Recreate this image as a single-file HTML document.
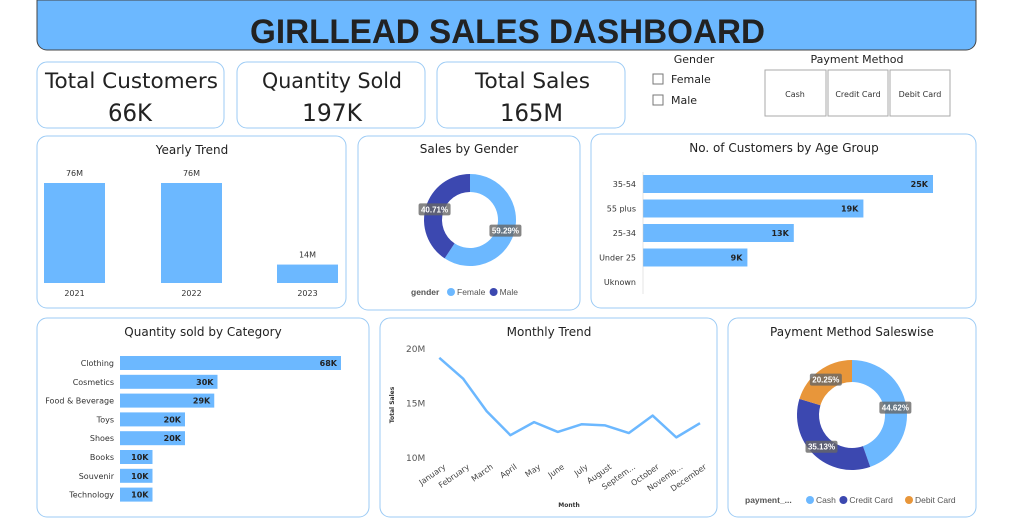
<!DOCTYPE html>
<html><head><meta charset="utf-8"><style>
body{margin:0;background:#fff;font-family:"Liberation Sans","DejaVu Sans",sans-serif;}
svg text{font-family:"DejaVu Sans","Liberation Sans",sans-serif;}
</style></head><body>
<svg id="s" width="1014" height="526" viewBox="0 0 1014 526" xmlns="http://www.w3.org/2000/svg">
<path d="M37,0 H976 V40 a10,10 0 0 1 -10,10 H47 a10,10 0 0 1 -10,-10 Z" fill="#6CB8FF" stroke="#444" stroke-width="1"/>
<text x="250" y="43" font-size="34" font-weight="bold" textLength="515" lengthAdjust="spacingAndGlyphs" fill="#222" style="font-family:'Liberation Sans',sans-serif">GIRLLEAD SALES DASHBOARD</text>

<g>
<rect x="37" y="62" width="187" height="66" rx="10" fill="#fff" stroke="#9CCBF5"/>
<text x="45" y="88" font-size="21" textLength="173" lengthAdjust="spacingAndGlyphs" fill="#222">Total Customers</text>
<text x="108" y="121" font-size="24" textLength="44" lengthAdjust="spacingAndGlyphs" fill="#222">66K</text></g>
<g>
<rect x="237" y="62" width="188" height="66" rx="10" fill="#fff" stroke="#9CCBF5"/>
<text x="262" y="88" font-size="21" textLength="140" lengthAdjust="spacingAndGlyphs" fill="#222">Quantity Sold</text>
<text x="302" y="121" font-size="24" textLength="60" lengthAdjust="spacingAndGlyphs" fill="#222">197K</text></g>
<g>
<rect x="437" y="62" width="188" height="66" rx="10" fill="#fff" stroke="#9CCBF5"/>
<text x="475" y="88" font-size="21" textLength="115" lengthAdjust="spacingAndGlyphs" fill="#222">Total Sales</text>
<text x="500" y="121" font-size="24" textLength="63" lengthAdjust="spacingAndGlyphs" fill="#222">165M</text></g>

<g>
<text x="694" y="63" font-size="11" text-anchor="middle" fill="#222">Gender</text>
<rect x="653" y="74" width="10" height="10" fill="#fff" stroke="#777"/>
<text x="671" y="83" font-size="11" fill="#222">Female</text>
<rect x="653" y="95" width="10" height="10" fill="#fff" stroke="#777"/>
<text x="671" y="104" font-size="11" fill="#222">Male</text></g>
<g>
<text x="857" y="63" font-size="11" text-anchor="middle" fill="#222">Payment Method</text>
<rect x="765" y="70" width="61" height="46" fill="#fff" stroke="#aaa"/>
<text x="795" y="97" font-size="8" text-anchor="middle" fill="#333">Cash</text>
<rect x="828" y="70" width="60" height="46" fill="#fff" stroke="#aaa"/>
<text x="858" y="97" font-size="8" text-anchor="middle" fill="#333">Credit Card</text>
<rect x="890" y="70" width="60" height="46" fill="#fff" stroke="#aaa"/>
<text x="920" y="97" font-size="8" text-anchor="middle" fill="#333">Debit Card</text></g>

<rect x="37" y="136" width="309" height="172" rx="10" fill="#fff" stroke="#9CCBF5"/>
<text x="192" y="154" font-size="12" text-anchor="middle" fill="#222">Yearly Trend</text>
<rect x="358" y="136" width="222" height="174" rx="10" fill="#fff" stroke="#9CCBF5"/>
<text x="469" y="153" font-size="12" text-anchor="middle" fill="#222">Sales by Gender</text>
<rect x="591" y="134" width="385" height="174" rx="10" fill="#fff" stroke="#9CCBF5"/>
<text x="784" y="152" font-size="12" text-anchor="middle" fill="#222">No. of Customers by Age Group</text>
<rect x="37" y="318" width="332" height="199" rx="10" fill="#fff" stroke="#9CCBF5"/>
<text x="203" y="336" font-size="12" text-anchor="middle" fill="#222">Quantity sold by Category</text>
<rect x="380" y="318" width="337" height="199" rx="10" fill="#fff" stroke="#9CCBF5"/>
<text x="549" y="336" font-size="12" text-anchor="middle" fill="#222">Monthly Trend</text>
<rect x="728" y="318" width="248" height="199" rx="10" fill="#fff" stroke="#9CCBF5"/>
<text x="852" y="336" font-size="12" text-anchor="middle" fill="#222">Payment Method Saleswise</text>
<g id="g"></g>
</svg>
<script>
const years=['2021','2022','2023'];
const yearSales=[76,76,14];
const yearLabels=['76M','76M','14M'];
const ages=['35-54','55 plus','25-34','Under 25','Uknown'];
const ageCounts=[25,19,13,9,0];
const ageLabels=['25K','19K','13K','9K',''];
const cats=['Clothing','Cosmetics','Food & Beverage','Toys','Shoes','Books','Souvenir','Technology'];
const catQty=[68,30,29,20,20,10,10,10];
const catLabels=['68K','30K','29K','20K','20K','10K','10K','10K'];
const months=['January','February','March','April','May','June','July','August','Septem...','October','Novemb...','December'];
const monthSales=[19.1,17.2,14.2,12.0,13.2,12.3,13.0,12.9,12.2,13.8,11.8,13.1];
const monthTicks=[10,15,20];
const genders=['Female','Male'];
const genderPct=[59.29,40.71];
const pays=['Cash','Credit Card','Debit Card'];
const payPct=[44.62,35.13,20.25];

const NS='http://www.w3.org/2000/svg',G=document.getElementById('g');
function el(t,a,txt){const e=document.createElementNS(NS,t);for(const k in a)e.setAttribute(k,a[k]);if(txt!==undefined)e.textContent=txt;G.appendChild(e);return e;}
const BLUE='#6CB8FF',DARK='#3C48B0',OR='#E8963A';
const yBase=283,yS=100/76,xs=[44,161,277];
years.forEach((y,i)=>{const h=yearSales[i]*yS;
let r=el('rect',{x:xs[i],y:yBase-h,width:61,height:h,fill:BLUE});

let t=el('text',{x:xs[i]+30.5,y:yBase-h-7,'font-size':8,'text-anchor':'middle',fill:'#333'},yearLabels[i]);

let l=el('text',{x:xs[i]+30.5,y:296,'font-size':8,'text-anchor':'middle',fill:'#333'},y);
});
const aX=643,aS=290/25;
ages.forEach((a,i)=>{const cy=184+i*24.5,w=ageCounts[i]*aS;
let l=el('text',{x:636,y:cy+3,'font-size':8,'text-anchor':'end',fill:'#333'},a);

if(w>0){let r=el('rect',{x:aX,y:cy-9,width:w,height:18,fill:BLUE});

let t=el('text',{x:aX+w-5,y:cy+3,'font-size':8,'font-weight':'bold','text-anchor':'end',fill:'#222'},ageLabels[i]);
}});
el('line',{x1:aX,y1:172,x2:aX,y2:294,stroke:'#ccc','stroke-width':0.5});
const cX=120,cS=221/68;
cats.forEach((c,i)=>{const cy=363+i*18.8,w=catQty[i]*cS;
let l=el('text',{x:114,y:cy+3,'font-size':8,'text-anchor':'end',fill:'#333'},c);

let r=el('rect',{x:cX,y:cy-7,width:w,height:14,fill:BLUE});

let t=el('text',{x:cX+w-4,y:cy+3,'font-size':8,'font-weight':'bold','text-anchor':'end',fill:'#222'},catLabels[i]);
});
const mx=i=>439.3+i*23.7,my=v=>457-(v-10)*10.9;
monthTicks.forEach(v=>{let t=el('text',{x:406,y:my(v)+4,'font-size':9,fill:'#555'},v+'M');
});
let tt=el('text',{x:0,y:0,'font-size':6,'font-weight':'bold',fill:'#333','text-anchor':'middle',transform:'translate(394,405) rotate(-90)'},'Total Sales');

let mt=el('text',{x:569,y:507,'font-size':6,'font-weight':'bold',fill:'#333','text-anchor':'middle'},'Month');

let p=el('polyline',{points:monthSales.map((v,i)=>mx(i)+','+my(v)).join(' '),fill:'none',stroke:BLUE,'stroke-width':2.5,'stroke-linejoin':'round'});

months.forEach((m,i)=>{let t=el('text',{x:0,y:0,'font-size':8,fill:'#444','text-anchor':'end',transform:`translate(${mx(i)+7},${468}) rotate(-35)`},m);
});
function donut(cx,cy,ro,ri,vals,cols,names,labelR){let a0=-Math.PI/2;
vals.forEach((v,i)=>{const a1=a0+v/100*2*Math.PI,lg=(a1-a0)>Math.PI?1:0;
const P=(r,a)=>(cx+r*Math.cos(a)).toFixed(2)+','+(cy+r*Math.sin(a)).toFixed(2);
let s=el('path',{d:`M${P(ro,a0)} A${ro},${ro} 0 ${lg} 1 ${P(ro,a1)} L${P(ri,a1)} A${ri},${ri} 0 ${lg} 0 ${P(ri,a0)} Z`,fill:cols[i]});

a0=a1;});
a0=-Math.PI/2;
vals.forEach((v,i)=>{const a1=a0+v/100*2*Math.PI;
const am=(a0+a1)/2,lx=cx+labelR*Math.cos(am),ly=cy+labelR*Math.sin(am),txt=v.toFixed(2)+'%';
el('rect',{x:lx-16,y:ly-6,width:32,height:12,rx:2,fill:'#666','fill-opacity':0.8});
let t=el('text',{x:lx,y:ly+3,'font-size':8,'font-weight':'bold',fill:'#fff','text-anchor':'middle',style:"font-family:'Liberation Sans',sans-serif"},txt);

a0=a1;});}
donut(470,220,46,28,genderPct,[BLUE,DARK],genders,37);
donut(852,415,55,33,payPct,[BLUE,DARK,OR],pays,44);
function legend(x,y,title,names,cols){let t=el('text',{x:x,y:y,'font-size':8.5,'font-weight':'bold',fill:'#555',style:"font-family:'Liberation Sans',sans-serif"},title);

let cx=x+title.length*5+6;names.forEach((n,i)=>{el('circle',{cx:cx+4,cy:y-3,r:4,fill:cols[i]});
let l=el('text',{x:cx+10,y:y,'font-size':8.5,fill:'#555',style:"font-family:'Liberation Sans',sans-serif"},n);
cx+=10+n.length*4.6+5;});}
legend(411,295,'gender',genders,[BLUE,DARK]);
legend(745,503,'payment_...',pays,[BLUE,DARK,OR]);
</script>
</body></html>
